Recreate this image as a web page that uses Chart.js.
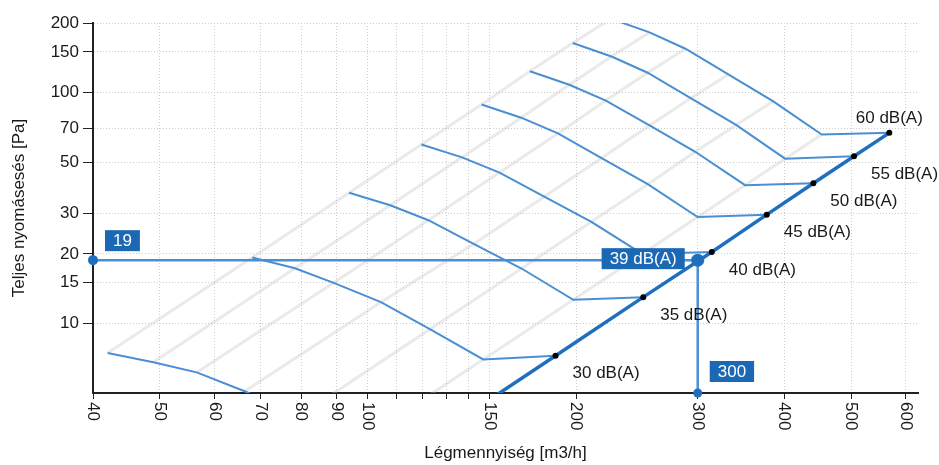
<!DOCTYPE html>
<html>
<head>
<meta charset="utf-8">
<script src="https://cdn.jsdelivr.net/npm/chart.js@4.4.0/dist/chart.umd.min.js"></script>
<style>
  html, body { margin: 0; padding: 0; background: #fff; }
  canvas { display: block; }
</style>
</head>
<body>
<canvas id="fanChart" width="939" height="465"></canvas>
<script>
// sound levels of the fan curves, dB(A)
const soundLevels = [25, 30, 35, 40, 45, 50, 55, 60];

// each curve: start, four points, knee, point on the system line
const flow25 = [42.0, 48.9, 56.5, 66.3, 79.7, 95.1, 127];
const pressure25 = [7.45, 6.79, 6.14, 5.09, 3.99, 2.95, 3.36];
const flow30 = [68.0, 78.4, 89.2, 104.4, 122.9, 146.8, 186.8];
const pressure30 = [19.3, 17.35, 15.0, 12.37, 9.45, 6.99, 7.25];
const flow35 = [93.9, 107.7, 122.3, 142.2, 166.8, 198.2, 250.2];
const pressure35 = [36.8, 32.5, 28.0, 22.1, 17.3, 12.66, 13.0];
const flow40 = [119.5, 136.8, 155.0, 179.9, 210.5, 249.4, 314.4];
const pressure40 = [59.6, 52.4, 45.0, 35.4, 27.55, 20.0, 20.4];
const flow45 = [146.0, 166.6, 188.3, 217.8, 254.0, 299.9, 377.6];
const pressure45 = [88.7, 77.8, 66.5, 52.0, 40.1, 28.9, 29.6];
const flow50 = [171.5, 195.6, 220.9, 255.5, 297.6, 351.3, 441];
const pressure50 = [123.6, 108.1, 92.3, 72.0, 55.4, 39.7, 40.5];
const flow55 = [197.8, 225.1, 253.9, 293.0, 340.9, 401.3, 505];
const pressure55 = [163.9, 143.2, 121.8, 94.5, 72.4, 51.7, 53.0];
const flow60 = [224.6, 255.5, 288.0, 332.2, 385.9, 453.5, 568];
const pressure60 = [208.7, 182.2, 154.7, 119.8, 91.6, 65.8, 66.9];

const xTickValues = [40, 50, 60, 70, 80, 90, 100, 110, 120, 130, 140, 150, 200, 300, 400, 500, 600];
const xTickLabels = ['40', '50', '60', '70', '80', '90', '100', '', '', '', '', '150', '200', '300', '400', '500', '600'];
const yTickValues = [10, 15, 20, 30, 50, 70, 100, 150, 200];
const yTickLabels = ['10', '15', '20', '30', '50', '70', '100', '150', '200'];

// operating point
const opFlow = 300;
const opPressure = 18.8;
const opFlowLabel = '300';
const opPressureLabel = '19';
const opLevelLabel = '39 dB(A)';

const xTitle = 'Légmennyiség [m3/h]';
const yTitle = 'Teljes nyomásesés [Pa]';

const flows = [flow25, flow30, flow35, flow40, flow45, flow50, flow55, flow60];
const pressures = [pressure25, pressure30, pressure35, pressure40, pressure45, pressure50, pressure55, pressure60];

const curveColor = '#4a8fd2';
const darkBlue = '#1f6fbf';
const tagColor = '#1b69b4';
const FONT = '"Liberation Sans", Arial, sans-serif';

Chart.defaults.font.family = FONT;
Chart.defaults.font.size = 17;

const datasets = [];

// grey lines through matching points of the curves
for (let i = 0; i < flow25.length - 1; i++) {
    datasets.push({
        data: flows.map((f, k) => ({ x: f[i], y: pressures[k][i] })),
        borderColor: 'rgba(190,190,190,0.33)',
        borderWidth: 3,
        pointRadius: 0,
        order: 6
    });
}

flows.forEach((f, k) => {
    datasets.push({
        data: f.map((x, i) => ({ x: x, y: pressures[k][i] })),
        borderColor: curveColor,
        borderWidth: 2,
        pointRadius: 0,
        order: 5
    });
});

// system line through the curve end points
datasets.push({
    data: flows.map((f, k) => ({ x: f[f.length - 1], y: pressures[k][f.length - 1] })),
    borderColor: darkBlue,
    borderWidth: 3.5,
    pointRadius: 3,
    pointBackgroundColor: '#000',
    pointBorderWidth: 0,
    order: 3
});

datasets.push({
    data: [{ x: 40, y: opPressure }, { x: opFlow, y: opPressure }],
    borderColor: curveColor,
    borderWidth: 2.5,
    pointRadius: [5, 0],
    pointBackgroundColor: darkBlue,
    pointBorderWidth: 0,
    clip: false,
    order: 4
});
datasets.push({
    data: [{ x: opFlow, y: opPressure }, { x: opFlow, y: 5 }],
    borderColor: curveColor,
    borderWidth: 2.5,
    pointRadius: [0, 4.5],
    pointBackgroundColor: darkBlue,
    pointBorderWidth: 0,
    clip: false,
    order: 4
});
datasets.push({
    data: [{ x: opFlow, y: opPressure }],
    showLine: false,
    pointRadius: 6.5,
    pointBackgroundColor: darkBlue,
    pointBorderWidth: 0,
    clip: false,
    order: 1
});

function tag(ctx, text, left, top) {
    const w = ctx.measureText(text).width + 16;
    const h = 21;
    ctx.fillStyle = tagColor;
    ctx.fillRect(left, top, w, h);
    ctx.fillStyle = '#fff';
    ctx.textAlign = 'center';
    ctx.textBaseline = 'middle';
    ctx.fillText(text, left + w / 2, top + h / 2 + 1);
    return w;
}

const annotate = {
    id: 'annotate',
    afterDatasetsDraw(chart) {
        const { ctx, chartArea, scales: { x, y } } = chart;
        ctx.save();
        ctx.font = '17px ' + FONT;

        // dB(A) labels at the system line
        soundLevels.forEach((lvl, k) => {
            const f = flows[k];
            const p = pressures[k];
            const px = x.getPixelForValue(f[f.length - 1]);
            const py = y.getPixelForValue(p[p.length - 1]);
            if (py > chartArea.bottom) return;
            const text = lvl + ' dB(A)';
            const w = ctx.measureText(text).width;
            let tx = px + 17;
            let ty = py + 18;
            if (k === soundLevels.length - 1) {
                tx = px - w / 2;
                ty = py - 15;
            }
            ctx.fillStyle = '#1a1a1a';
            ctx.textAlign = 'left';
            ctx.textBaseline = 'middle';
            ctx.fillText(text, tx, ty);
        });

        const ox = x.getPixelForValue(opFlow);
        const oy = y.getPixelForValue(opPressure);
        tag(ctx, opPressureLabel, chartArea.left + 12, oy - 30);
        tag(ctx, opFlowLabel, ox + 12, chartArea.bottom - 32);
        const w = ctx.measureText(opLevelLabel).width + 16;
        tag(ctx, opLevelLabel, ox - 13 - w, oy - 12);
        ctx.restore();
    },
    afterDraw(chart) {
        const { ctx, chartArea, scales: { x } } = chart;
        ctx.save();
        ctx.font = '17px ' + FONT;
        ctx.fillStyle = '#1a1a1a';

        // rotated flow labels
        xTickValues.forEach((v, i) => {
            if (!xTickLabels[i]) return;
            ctx.save();
            ctx.translate(x.getPixelForValue(v), chartArea.bottom + 9);
            ctx.rotate(Math.PI / 2);
            ctx.textAlign = 'left';
            ctx.textBaseline = 'middle';
            ctx.fillText(xTickLabels[i], 0, 0);
            ctx.restore();
        });

        ctx.textAlign = 'center';
        ctx.textBaseline = 'middle';
        ctx.fillText(xTitle, (chartArea.left + chartArea.right) / 2, 453);

        ctx.save();
        ctx.translate(19, (chartArea.top + chartArea.bottom) / 2);
        ctx.rotate(-Math.PI / 2);
        ctx.fillText(yTitle, 0, 0);
        ctx.restore();
        ctx.restore();
    }
};

new Chart(document.getElementById('fanChart'), {
    type: 'line',
    data: { datasets: datasets },
    options: {
        responsive: false,
        animation: false,
        events: [],
        layout: { padding: { top: 23, right: 21, left: 0, bottom: 0 } },
        plugins: {
            legend: { display: false },
            tooltip: { enabled: false }
        },
        scales: {
            x: {
                type: 'logarithmic',
                min: 40,
                max: 625,
                afterBuildTicks: (s) => { s.ticks = xTickValues.map(v => ({ value: v })); },
                afterFit: (s) => { s.height = 72; },
                ticks: { display: false },
                grid: { color: '#cccccc', tickColor: '#222', tickLength: 6 },
                border: { color: '#222', width: 2, dash: [1, 2] }
            },
            y: {
                type: 'logarithmic',
                min: 5,
                max: 200,
                afterBuildTicks: (s) => { s.ticks = yTickValues.map(v => ({ value: v })); },
                afterFit: (s) => { s.width = 93; },
                ticks: {
                    color: '#1a1a1a',
                    padding: 4,
                    autoSkip: false,
                    callback: (v, i) => yTickLabels[i]
                },
                grid: { color: '#cccccc', tickColor: '#222', tickLength: 10 },
                border: { color: '#222', width: 2, dash: [1, 2] }
            }
        }
    },
    plugins: [annotate]
});
</script>
</body>
</html>
